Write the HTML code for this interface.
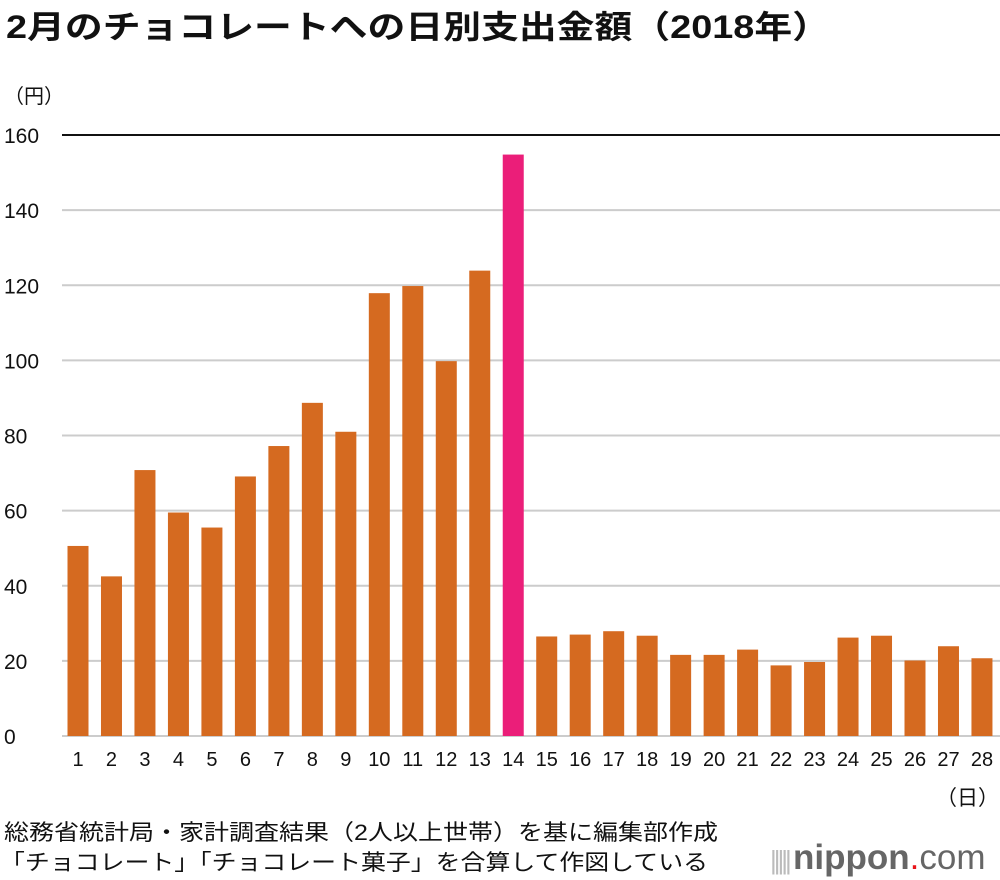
<!DOCTYPE html>
<html><head><meta charset="utf-8"><style>
body{margin:0;width:1000px;height:880px;background:#fff;font-family:"Liberation Sans","Noto Sans CJK JP",sans-serif;overflow:hidden;position:relative}
.t{position:absolute;white-space:nowrap;color:#111}
</style></head><body>
<div class="t" style="left:4px;top:80px;font-size:20px">（円）</div>
<div class="t" style="left:936px;top:782px;font-size:21px">（日）</div>
<div class="t" style="left:770px;top:838px;font-size:35px;color:#666"><span style="color:#bbb;font-size:26px;letter-spacing:-3px">||||| </span><b>nippon</b><span style="color:#e8141a">.</span><span style="font-weight:normal">com</span></div>
<svg id="c" width="1000" height="880" style="position:absolute;left:0;top:0">
<text x="6" y="38" font-size="32" font-weight="bold" fill="#111" textLength="824" lengthAdjust="spacingAndGlyphs" font-family="Liberation Sans, Noto Sans CJK JP, sans-serif">2月のチョコレートへの日別支出金額（2018年）</text>
<text x="4" y="840" font-size="22" fill="#111" textLength="714" lengthAdjust="spacingAndGlyphs" font-family="Liberation Sans, Noto Sans CJK JP, sans-serif">総務省統計局・家計調査結果（2人以上世帯）を基に編集部作成</text>
<text x="0" y="870" font-size="22" fill="#111" textLength="708" lengthAdjust="spacingAndGlyphs" font-family="Liberation Sans, Noto Sans CJK JP, sans-serif">「チョコレート」「チョコレート菓子」を合算して作図している</text>
</svg>
<script>
const days=[1,2,3,4,5,6,7,8,9,10,11,12,13,14,15,16,17,18,19,20,21,22,23,24,25,26,27,28];
const values=[50.6,42.5,70.8,59.5,55.5,69.1,77.2,88.7,81.0,117.9,119.8,99.8,123.9,154.8,26.5,27.0,27.9,26.7,21.6,21.6,23.0,18.8,19.7,26.2,26.7,20.1,23.9,20.7];
const yTicks=[0,20,40,60,80,100,120,140,160];
const highlightDay=14;
const NS="http://www.w3.org/2000/svg";
const svg=document.getElementById('c');
const y=v=>736-v*3.756;
const x=d=>78+(d-1)*33.48;
function mk(t,a){const e=document.createElementNS(NS,t);for(const k in a)e.setAttribute(k,a[k]);svg.appendChild(e);return e;}
yTicks.forEach(v=>{
  const l=mk('line',{x1:62,x2:1000,y1:y(v),y2:y(v),stroke:v===160?'#111':'#ccc','stroke-width':2});
  
  
  const t=mk('text',{x:4,y:y(v)+8,'font-size':21,fill:'#111','font-family':'Liberation Sans, sans-serif'});
  t.textContent=v;
  
  
});
days.forEach((d,i)=>{
  const r=mk('rect',{x:x(d)-10.5,y:y(values[i]),width:21,height:y(0)-y(values[i]),fill:d===highlightDay?'#eb1e79':'#d56a20'});
  
  
  const t=mk('text',{x:x(d),y:766,'font-size':20,fill:'#111','text-anchor':'middle','font-family':'Liberation Sans, sans-serif'});
  t.textContent=d;
  
  
});
</script>
</body></html>
